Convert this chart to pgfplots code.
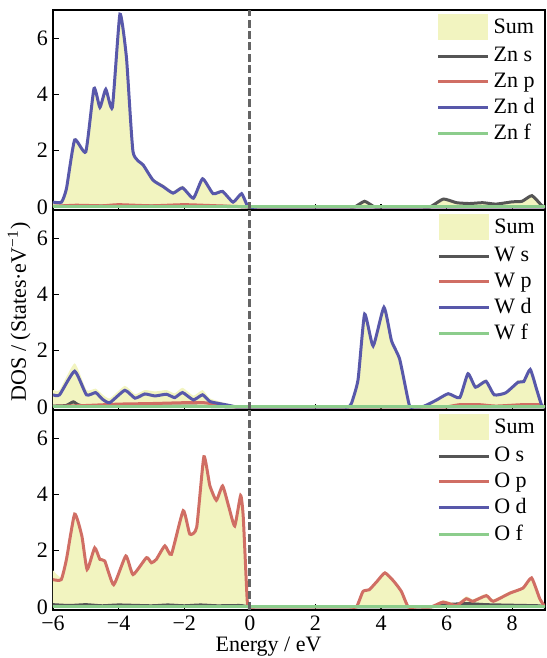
\documentclass[border=0pt]{standalone}
\usepackage{fontspec}
\setmainfont{Liberation Serif}
\usepackage{pgfplots}
\usepackage{pgfplotstable}
\pgfplotsset{compat=1.18}
\usepgfplotslibrary{groupplots}

\definecolor{sumc}{RGB}{242,244,192}
\definecolor{sc}{RGB}{85,85,85}
\definecolor{pc}{RGB}{208,110,100}
\definecolor{dc}{RGB}{88,88,170}
\definecolor{fc}{RGB}{140,205,140}
\definecolor{zc}{RGB}{100,100,100}

% ---------- Zn panel ----------
\pgfplotstableread{
E v
-6.00 0.20
-5.74 0.20
-5.59 0.70
-5.34 2.45
-5.00 2.02
-4.75 4.28
-4.57 3.60
-4.39 4.25
-4.19 3.60
-3.96 6.90
-3.76 5.35
-3.56 2.02
-3.25 1.55
-2.95 1.02
-2.64 0.80
-2.34 0.56
-2.05 0.76
-1.72 0.38
-1.44 1.06
-1.12 0.53
-0.83 0.61
-0.51 0.23
-0.25 0.52
-0.05 0.02
0.20 0.00
0.50 0.00
2.90 0.00
3.20 0.00
3.50 0.22
3.80 0.00
4.10 0.00
5.20 0.00
5.50 0.02
5.90 0.30
6.30 0.17
6.70 0.14
7.10 0.17
7.50 0.12
8.00 0.20
8.30 0.22
8.60 0.42
8.90 0.05
9.00 0.00
}\sumA
\pgfplotstableread{
E v
-6.00 0.02
-5.00 0.03
-4.00 0.02
-3.00 0.03
-2.00 0.02
-1.00 0.02
0.00 0.00
0.30 0.00
2.90 0.00
3.20 0.00
3.50 0.20
3.80 0.00
4.10 0.00
5.20 0.00
5.50 0.00
5.90 0.28
6.30 0.15
6.70 0.12
7.10 0.15
7.50 0.10
8.00 0.18
8.30 0.20
8.60 0.40
8.90 0.05
9.00 0.00
}\sA
\pgfplotstableread{
E v
-6.00 0.02
-5.30 0.06
-4.50 0.04
-4.00 0.08
-3.00 0.04
-2.00 0.08
-1.00 0.04
0.00 0.00
0.30 0.00
9.00 0.00
}\pA
\pgfplotstableread{
E v
-6.00 0.17
-5.74 0.17
-5.59 0.65
-5.34 2.38
-5.00 1.96
-4.75 4.21
-4.57 3.54
-4.39 4.18
-4.19 3.54
-3.96 6.85
-3.76 5.30
-3.56 1.96
-3.25 1.49
-2.95 0.95
-2.64 0.72
-2.34 0.49
-2.05 0.68
-1.72 0.31
-1.44 1.00
-1.12 0.47
-0.83 0.55
-0.51 0.17
-0.25 0.47
-0.05 0.00
0.25 0.00
0.60 0.00
9.00 0.00
}\dA
\pgfplotstableread{
E v
-6.00 0.00
9.00 0.00
}\zeroT

% ---------- W panel ----------
\pgfplotstableread{
E v
-6.00 0.60
-5.80 0.60
-5.34 1.55
-4.98 0.60
-4.70 0.65
-4.50 0.45
-4.27 0.30
-3.81 0.75
-3.50 0.45
-3.20 0.60
-2.89 0.55
-2.54 0.60
-2.29 0.48
-2.05 0.68
-1.72 0.40
-1.44 0.60
-1.21 0.30
-0.70 0.12
-0.40 0.02
-0.20 0.00
0.10 0.00
2.70 0.00
3.00 0.00
3.10 0.13
3.30 0.97
3.50 3.30
3.76 2.17
4.09 3.54
4.32 2.35
4.57 1.69
4.86 0.07
5.00 0.00
5.30 0.02
5.70 0.27
6.05 0.50
6.40 0.40
6.65 1.25
6.88 0.78
7.20 0.98
7.45 0.48
7.80 0.55
8.18 0.95
8.35 0.98
8.55 1.40
8.75 0.68
8.90 0.08
9.00 0.00
}\sumB
\pgfplotstableread{
E v
-6.00 0.03
-5.60 0.05
-5.38 0.18
-5.15 0.05
-4.00 0.03
-2.00 0.03
-0.50 0.00
-0.20 0.00
9.00 0.00
}\sB
\pgfplotstableread{
E v
-6.00 0.02
-5.00 0.05
-4.00 0.10
-3.00 0.12
-2.00 0.15
-1.40 0.15
-0.80 0.05
-0.40 0.00
-0.10 0.00
5.70 0.00
6.00 0.00
6.40 0.08
7.00 0.08
7.50 0.03
8.30 0.08
8.80 0.08
9.00 0.00
}\pB
\pgfplotstableread{
E v
-6.00 0.43
-5.80 0.43
-5.34 1.27
-4.98 0.43
-4.70 0.51
-4.50 0.28
-4.27 0.15
-3.81 0.59
-3.50 0.31
-3.20 0.46
-2.89 0.39
-2.54 0.45
-2.29 0.33
-2.05 0.51
-1.72 0.25
-1.44 0.43
-1.21 0.19
-0.70 0.07
-0.40 0.00
-0.10 0.00
2.70 0.00
3.00 0.00
3.10 0.13
3.30 0.97
3.50 3.30
3.76 2.17
4.09 3.54
4.32 2.35
4.57 1.69
4.86 0.07
5.00 0.00
5.30 0.02
5.70 0.25
6.05 0.47
6.40 0.33
6.65 1.18
6.88 0.70
7.20 0.91
7.45 0.43
7.80 0.50
8.18 0.88
8.35 0.90
8.55 1.33
8.75 0.60
8.90 0.05
9.00 0.00
}\dB

% ---------- O panel ----------
\pgfplotstableread{
E v
-6.00 1.30
-5.75 1.05
-5.59 1.75
-5.34 3.36
-5.12 2.58
-4.96 1.39
-4.73 2.16
-4.57 1.75
-4.42 1.69
-4.15 0.85
-3.78 1.87
-3.56 1.21
-3.15 1.81
-3.00 1.63
-2.85 1.75
-2.59 2.23
-2.39 1.93
-2.03 3.48
-1.83 2.65
-1.62 2.89
-1.40 5.40
-1.22 4.38
-1.02 3.85
-0.83 4.36
-0.65 3.66
-0.46 2.94
-0.28 4.02
-0.20 3.30
-0.08 0.30
-0.02 0.00
0.30 0.00
2.95 0.00
3.25 0.00
3.45 0.58
3.64 0.64
3.88 0.95
4.12 1.25
4.39 0.95
4.62 0.58
4.83 0.02
5.10 0.02
5.53 0.02
5.89 0.24
6.30 0.12
6.60 0.38
6.80 0.27
7.21 0.47
7.42 0.27
7.93 0.55
8.33 0.72
8.59 1.08
8.84 0.32
9.00 0.00
}\sumC
\pgfplotstableread{
E v
-6.00 0.08
-5.50 0.05
-5.00 0.08
-4.50 0.04
-4.00 0.07
-3.00 0.04
-2.50 0.07
-2.00 0.04
-1.50 0.07
-1.00 0.04
-0.30 0.05
0.00 0.00
0.30 0.00
5.20 0.00
5.50 0.00
6.00 0.08
6.60 0.12
7.20 0.08
8.00 0.06
8.80 0.04
9.00 0.00
}\sC
\pgfplotstableread{
E v
-6.00 0.97
-5.75 0.97
-5.59 1.69
-5.34 3.30
-5.12 2.52
-4.96 1.33
-4.73 2.10
-4.57 1.69
-4.42 1.63
-4.15 0.79
-3.78 1.81
-3.56 1.15
-3.15 1.75
-3.00 1.57
-2.85 1.69
-2.59 2.17
-2.39 1.87
-2.03 3.42
-1.83 2.59
-1.62 2.83
-1.40 5.34
-1.22 4.32
-1.02 3.79
-0.83 4.30
-0.65 3.60
-0.46 2.88
-0.28 3.96
-0.20 3.20
-0.08 0.25
-0.02 0.00
0.30 0.00
2.95 0.00
3.25 0.00
3.45 0.55
3.64 0.61
3.88 0.91
4.12 1.21
4.39 0.91
4.62 0.55
4.83 0.00
5.10 0.00
5.53 0.00
5.89 0.17
6.30 0.05
6.60 0.29
6.80 0.20
7.21 0.40
7.42 0.20
7.93 0.49
8.33 0.67
8.59 1.03
8.84 0.29
9.00 0.00
}\pC

\pgfplotsset{
  dosl/.style={line width=1.5pt, smooth, tension=0.3, no marks},
  sumfill/.style={fill=sumc, draw=none, smooth, tension=0.3, no marks,
    legend image code/.code={\fill[sumc] (0pt,-6.5pt) rectangle (25pt,6.5pt);}},
}

\begin{document}
\begin{tikzpicture}[font=\fontsize{11}{13}\selectfont]
\begin{groupplot}[
  group style={group size=1 by 3, vertical sep=0pt, xticklabels at=edge bottom},
  scale only axis,
  width=246pt, height=100pt,
  xmin=-6, xmax=9, ymin=-0.11, ymax=7,
  xtick={-6,-4,-2,0,2,4,6,8},
  xticklabels={−6,−4,−2,0,2,4,6,8},
  ytick={0,2,4,6},
  xtick pos=bottom, ytick pos=left,
  tick align=inside,
  major tick length=3pt,
  tick style={black, line width=0.6pt},
  axis line style={line width=0.8pt},
  label style={font=\fontsize{11}{13}\selectfont},
  tick label style={font=\fontsize{11}{13}\selectfont},
  /pgf/number format/assume math mode=true,
  xticklabel style={yshift=0.5pt},
  yticklabel style={xshift=1pt},
  legend image code/.code={\draw[#1] (0pt,0pt) -- (25pt,0pt);},
  legend style={at={(1,1)}, anchor=north east, draw=none, fill=none,
    font=\fontsize{11}{13}\selectfont, inner xsep=3pt, inner ysep=2pt,
    nodes={inner ysep=0.5pt},
    row sep=3pt, cells={anchor=west},
    /tikz/every even column/.append style={column sep=2.5pt}},
]
\nextgroupplot
\addplot[sumfill] table {\sumA} \closedcycle;
\addplot[dosl, sc] table {\sA};
\addplot[dosl, pc] table {\pA};
\addplot[dosl, dc] table {\dA};
\addplot[dosl, fc] table {\zeroT};
\addplot[zc, line width=1.5pt, dash pattern=on 4pt off 1.7pt, forget plot] coordinates {(0,-0.11) (0,7)};
\coordinate (tl) at (rel axis cs:0,1);
\legend{Sum, Zn s, Zn p, Zn d, Zn f}

\nextgroupplot[ylabel={DOS / (States·eV\textsuperscript{−1})},
  ylabel style={at={(axis description cs:-0.069,0.49)}, anchor=center}]
\addplot[sumfill] table {\sumB} \closedcycle;
\addplot[dosl, sc] table {\sB};
\addplot[dosl, pc] table {\pB};
\addplot[dosl, dc] table {\dB};
\addplot[dosl, fc] table {\zeroT};
\addplot[zc, line width=1.5pt, dash pattern=on 4pt off 1.7pt, forget plot] coordinates {(0,-0.11) (0,7)};
\legend{Sum, W s, W p, W d, W f}

\nextgroupplot[xlabel={Energy / eV},
  xlabel style={at={(axis description cs:0.438,0)}, anchor=base, yshift=-20.5pt}]
\addplot[sumfill] table {\sumC} \closedcycle;
\addplot[dosl, sc] table {\sC};
\addplot[dosl, pc] table {\pC};
\addplot[dosl, dc] table {\zeroT};
\addplot[dosl, fc] table {\zeroT};
\addplot[zc, line width=1.5pt, dash pattern=on 4pt off 1.7pt, forget plot] coordinates {(0,-0.11) (0,7)};
\coordinate (br) at (rel axis cs:1,0);
\legend{Sum, O s, O p, O d, O f}
\end{groupplot}
\pgfresetboundingbox
\useasboundingbox ([shift={(-26.5pt,5pt)}]tl) rectangle ([shift={(0.5pt,-24pt)}]br);
\end{tikzpicture}
\end{document}
